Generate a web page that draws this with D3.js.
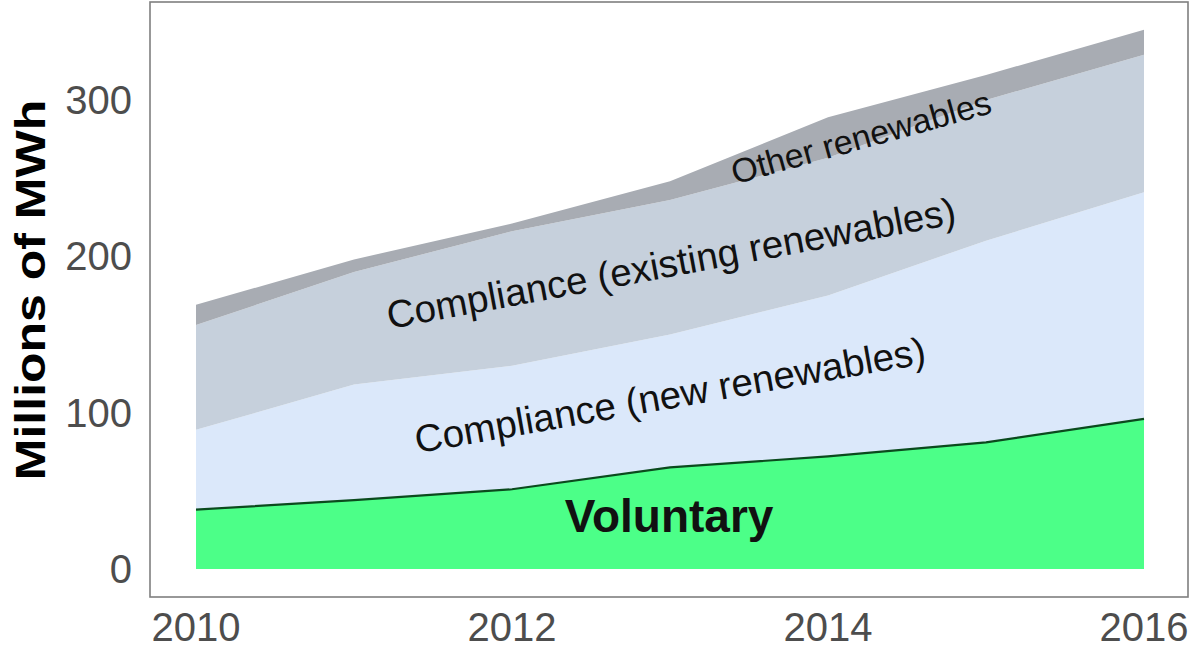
<!DOCTYPE html>
<html>
<head>
<meta charset="utf-8">
<script src="https://cdn.jsdelivr.net/npm/d3@7"></script>
<style>
  body { margin: 0; background: #fff; }
  text { font-family: "Liberation Sans", Arial, Helvetica, sans-serif; }
</style>
</head>
<body>
<div id="chart"></div>
<script>
const years = [2010, 2011, 2012, 2013, 2014, 2015, 2016];
// stacked pieces, millions of MWh
const voluntary = [38, 44, 51, 65, 72, 81, 96];
const complianceNew = [51, 74, 79, 85, 103, 129, 145];
const complianceExisting = [67, 72, 86, 86, 88, 90, 88];
const otherRenewables = [13, 8, 5, 12, 26, 16, 16];
const xTicks = [2010, 2012, 2014, 2016];
const yTicks = [0, 100, 200, 300];

const keys = ['voluntary', 'complianceNew', 'complianceExisting', 'other'];
const colors = {
  voluntary: '#4cff88',
  complianceNew: '#dbe8fa',
  complianceExisting: '#c6d0dc',
  other: '#a8acb3'
};

const rows = years.map((yr, i) => ({
  year: yr,
  voluntary: voluntary[i],
  complianceNew: complianceNew[i],
  complianceExisting: complianceExisting[i],
  other: otherRenewables[i]
}));

const W = 1192, H = 652;

const svg = d3.select('#chart').append('svg')
  .attr('width', W)
  .attr('height', H);

const x = d3.scaleLinear().domain([2010, 2016]).range([196, 1144]);
const y = d3.scaleLinear().domain([0, 300]).range([569, 100]);

const series = d3.stack().keys(keys)(rows);

const area = d3.area()
  .x(d => x(d.data.year))
  .y0(d => y(d[0]))
  .y1(d => y(d[1]));

svg.selectAll('path.layer')
  .data(series)
  .enter()
  .append('path')
  .attr('class', 'layer')
  .attr('d', area)
  .attr('fill', d => colors[d.key]);

// dark line on top of voluntary
const topLine = d3.line()
  .x(d => x(d.data.year))
  .y(d => y(d[1]));

svg.append('path')
  .attr('d', topLine(series[0]))
  .attr('fill', 'none')
  .attr('stroke', '#0b4a1d')
  .attr('stroke-width', 2.2);

// panel border
svg.append('rect')
  .attr('x', 150)
  .attr('y', 2)
  .attr('width', 1038)
  .attr('height', 595)
  .attr('fill', 'none')
  .attr('stroke', '#7f7f7f')
  .attr('stroke-width', 1.6);

// axes labels
svg.selectAll('text.xtick')
  .data(xTicks)
  .enter()
  .append('text')
  .attr('class', 'xtick')
  .attr('x', d => x(d))
  .attr('y', 641)
  .attr('text-anchor', 'middle')
  .attr('font-size', '40px')
  .attr('fill', '#4d4d4d')
  .text(d => d);

svg.selectAll('text.ytick')
  .data(yTicks)
  .enter()
  .append('text')
  .attr('class', 'ytick')
  .attr('x', 132)
  .attr('y', d => y(d) + 14)
  .attr('text-anchor', 'end')
  .attr('font-size', '40px')
  .attr('fill', '#4d4d4d')
  .text(d => d);

svg.append('text')
  .attr('transform', 'translate(45,290) rotate(-90) scale(1,0.84)')
  .attr('text-anchor', 'middle')
  .attr('font-size', '50px')
  .attr('font-weight', 'bold')
  .attr('fill', '#000')
  .text('Millions of MWh');

// in-area labels
const labels = [
  { text: 'Voluntary', cx: 669, cy: 516, angle: 0, size: 46, bold: true },
  { text: 'Compliance (new renewables)', cx: 670, cy: 395, angle: -10, size: 38.5, bold: false },
  { text: 'Compliance (existing renewables)', cx: 671, cy: 263, angle: -10.5, size: 38.5, bold: false },
  { text: 'Other renewables', cx: 861, cy: 137, angle: -15.5, size: 34, bold: false }
];

svg.selectAll('text.lab')
  .data(labels)
  .enter()
  .append('text')
  .attr('class', 'lab')
  .attr('transform', d => `translate(${d.cx},${d.cy}) rotate(${d.angle})`)
  .attr('text-anchor', 'middle')
  .attr('dominant-baseline', 'central')
  .attr('font-size', d => d.size + 'px')
  .attr('font-weight', d => d.bold ? 'bold' : 'normal')
  .attr('fill', '#111')
  .text(d => d.text);
</script>
</body>
</html>
